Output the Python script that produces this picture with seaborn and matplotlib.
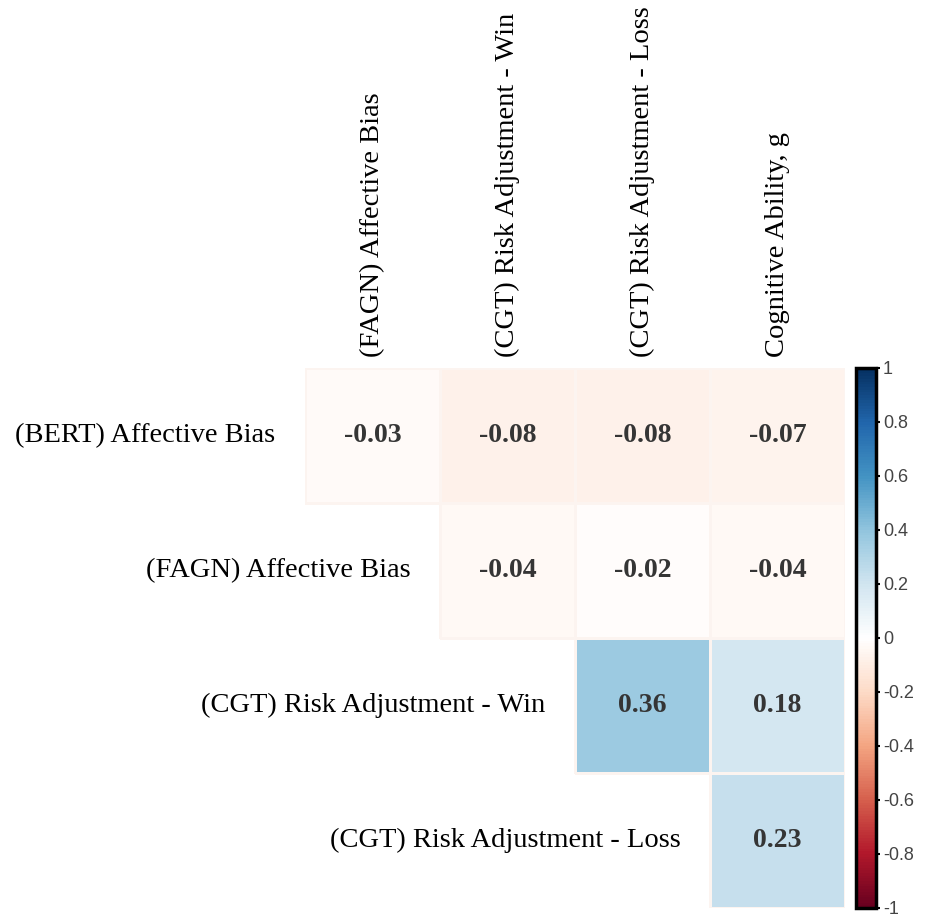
import numpy as np
import pandas as pd
import matplotlib
matplotlib.use("Agg")
import matplotlib.pyplot as plt
from matplotlib.colors import LinearSegmentedColormap, to_rgba
import seaborn as sns

# Variables in the correlation matrix
row_labels = ["(BERT) Affective Bias", "(FAGN) Affective Bias",
              "(CGT) Risk Adjustment - Win", "(CGT) Risk Adjustment - Loss"]
col_labels = ["(FAGN) Affective Bias", "(CGT) Risk Adjustment - Win",
              "(CGT) Risk Adjustment - Loss", "Cognitive Ability, g"]

# Correlations, one list per row (upper triangle only)
r_bert = [-0.03, -0.08, -0.08, -0.07]
r_fagn = [np.nan, -0.04, -0.02, -0.04]
r_win = [np.nan, np.nan, 0.36, 0.18]
r_loss = [np.nan, np.nan, np.nan, 0.23]

cbar_ticks = [-1, -0.8, -0.6, -0.4, -0.2, 0, 0.2, 0.4, 0.6, 0.8, 1]
cbar_ticklabels = ["-1", "-0.8", "-0.6", "-0.4", "-0.2", "0",
                   "0.2", "0.4", "0.6", "0.8", "1"]

# Diverging red-white-blue palette with a pure white midpoint
rdbu_colors = ["#67001F", "#B2182B", "#D6604D", "#F4A582", "#FDDBC7", "#FFFFFF",
               "#D1E5F0", "#92C5DE", "#4393C3", "#2166AC", "#053061"]
cmap = LinearSegmentedColormap.from_list("rdbu_white", rdbu_colors, N=200)

sns.set_theme(style="white")
plt.rcParams["font.family"] = ["Liberation Serif", "DejaVu Serif"]

corr = pd.DataFrame([r_bert, r_fagn, r_win, r_loss],
                    index=row_labels, columns=col_labels)
mask = corr.isna()

W, H = 927, 918
fig = plt.figure(figsize=(W / 100, H / 100), dpi=100)
ax = fig.add_axes([305 / W, 10 / H, 540 / W, 540 / H])
cax = fig.add_axes([856 / W, 10 / H, 20 / W, 540 / H])

sns.heatmap(corr, mask=mask, cmap=cmap, vmin=-1, vmax=1,
            annot=True, fmt=".2f",
            annot_kws={"fontsize": 20, "fontweight": "bold", "color": "#353535"},
            linewidths=1.0, linecolor="#fcf4f0",
            xticklabels=False, yticklabels=False,
            cbar_ax=cax, ax=ax)

# Only outline the cells that carry a value
mesh = ax.collections[0]
edge = to_rgba("#fcf4f0")
mesh.set_edgecolor([(0, 0, 0, 0) if m else edge for m in mask.values.ravel()])

# Row labels sit just left of the first drawn cell of each row
for i, lab in enumerate(row_labels):
    ax.text(i - 0.22, i + 0.5, lab, ha="right", va="center",
            fontsize=20.5, color="black", clip_on=False)

# Column labels rotated above the top row
for j, lab in enumerate(col_labels):
    ax.text(j + 0.5, -0.08, lab, ha="center", va="bottom", rotation=90,
            fontsize=20.5, color="black", clip_on=False)

# Colour bar styling
cb = mesh.colorbar
cb.set_ticks(cbar_ticks)
cb.set_ticklabels(cbar_ticklabels)
cb.outline.set_edgecolor("black")
cb.outline.set_linewidth(2.5)
cax.tick_params(axis="y", length=3, width=1.5, direction="out", pad=2,
                labelsize=13, colors="black", labelcolor="#444444")
for t in cax.get_yticklabels():
    t.set_fontfamily(["Liberation Sans", "DejaVu Sans"])

fig.savefig("out.png", dpi=100, facecolor="white")
